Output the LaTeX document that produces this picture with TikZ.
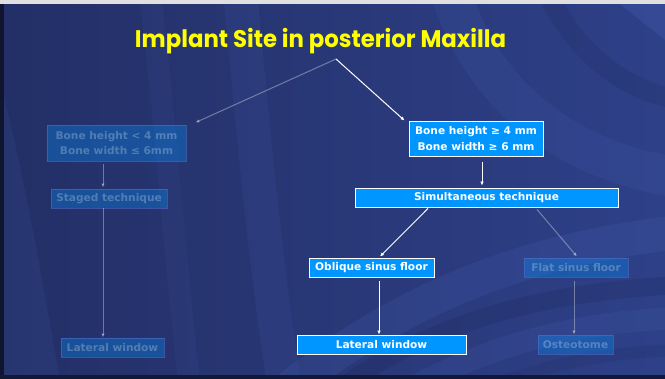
\documentclass[tikz,border=0pt]{standalone}
\usepackage{fontspec}
\usepackage{graphicx}
\usetikzlibrary{arrows.meta}
\newfontfamily\boxfont{DejaVu Sans}
\newfontfamily\titlefont{Poppins}

\definecolor{navy}{RGB}{35,47,102}
\definecolor{navyright}{RGB}{46,64,136}
\definecolor{sweep}{RGB}{80,108,196}
\definecolor{deepnavy}{RGB}{22,30,70}
\definecolor{azure}{RGB}{0,150,255}
\definecolor{titleyellow}{RGB}{255,255,0}

\tikzset{
  box/.style={draw=white, line width=0.9pt, fill=azure, text=white,
    font=\boxfont\bfseries\fontsize{10.6}{15.7}\selectfont,
    inner sep=0pt, align=center},
  dimbox/.style={box, draw=sweep, fill opacity=0.32, draw opacity=0.6, text opacity=0.25},
  arr/.style={draw=white, line width=1pt, -{Latex[length=4pt,width=3.6pt]}},
  dimarr/.style={arr, opacity=0.35},
  band/.style={line width=#1, line cap=round},
}

\begin{document}
\begin{tikzpicture}[x=1pt, y=-1pt]
  \useasboundingbox (0,0) rectangle (665,379);

  % slide background
  \shade[left color=navy, right color=navyright] (0,0) rectangle (665,379);
  \begin{scope}
    \clip (0,0) rectangle (665,379);
    % soft swooping bands
    \fill[sweep, opacity=0.10] (0,80) .. controls (30,200) and (45,300) .. (60,379) -- (0,379) -- cycle;
    \draw[sweep, opacity=0.10, band=34pt] (240,-10) .. controls (255,150) and (265,260) .. (285,390);
    \draw[sweep, opacity=0.08, band=22pt] (150,-10) .. controls (165,120) and (175,260) .. (190,390);
    \draw[sweep, opacity=0.13, band=40pt] (450,-10) .. controls (480,90) and (560,160) .. (680,178);
    \draw[deepnavy, opacity=0.14, band=20pt] (545,-10) .. controls (575,50) and (620,90) .. (680,100);
    \fill[sweep, opacity=0.22] (615,0) -- (665,0) -- (665,40) -- cycle;
    \draw[sweep, opacity=0.16, band=34pt] (280,395) .. controls (400,300) and (520,250) .. (680,232);
    \draw[deepnavy, opacity=0.17, band=18pt] (330,395) .. controls (430,322) and (540,292) .. (680,285);
    \draw[sweep, opacity=0.14, band=22pt] (400,395) .. controls (480,348) and (570,322) .. (680,318);
    \draw[deepnavy, opacity=0.12, band=12pt] (470,395) .. controls (530,368) and (600,352) .. (680,350);
  \end{scope}

  % slide frame
  \fill[black!12] (0,0) rectangle (665,4);
  \fill[deepnavy!70!black] (0,4) rectangle (4,379);
  \fill[deepnavy!80!black] (0,375) rectangle (665,379);

  % title
  \node[anchor=base, text=titleyellow, inner sep=0pt] (title) at (320.5,48)
    {\resizebox{371pt}{\height}{\titlefont\bfseries\fontsize{24}{30}\selectfont Implant Site in posterior Maxilla}};
  \coordinate (apex) at (336,59);

  % active branch
  \node[box, minimum width=134pt, minimum height=35pt] (bh) at (476,138.5)
    {Bone height ≥ 4 mm\\Bone width ≥ 6 mm};
  \node[box, minimum width=263pt, minimum height=19pt] (sim) at (486.5,197.5) {Simultaneous technique};
  \node[box, minimum width=125pt, minimum height=19pt] (obl) at (371.5,267.5) {Oblique sinus floor};
  \node[box, minimum width=169pt, minimum height=19pt] (lat) at (381.5,344.5) {Lateral window};

  % faded branches
  \node[dimbox, minimum width=139pt, minimum height=36pt] (bl) at (116.5,143)
    {Bone height < 4 mm\\Bone width ≤ 6mm};
  \node[dimbox, minimum width=116pt, minimum height=19pt] (st) at (109,198.5) {Staged technique};
  \node[dimbox, minimum width=103pt, minimum height=19pt] (ll) at (112.5,347.5) {Lateral window};
  \node[dimbox, minimum width=104pt, minimum height=19pt] (flat) at (576,267.5) {Flat sinus floor};
  \node[dimbox, minimum width=75pt, minimum height=19pt] (ost) at (575.5,344.5) {Osteotome};

  % connectors
  \draw[arr] (apex) -- ([xshift=-4pt]bh.north west);
  \draw[arr] ([xshift=6pt,yshift=-6pt]bh.south) -- ([xshift=-4.5pt,yshift=2pt]sim.north);
  \draw[arr] ([xshift=-58.5pt,yshift=-1pt]sim.south) -- ([xshift=8.5pt,yshift=1pt]obl.north);
  \draw[arr] ([xshift=7.5pt,yshift=-4pt]obl.south) -- ([xshift=-2.5pt]lat.north);

  \draw[dimarr] (apex) -- ([xshift=9pt,yshift=2pt]bl.north east);
  \draw[dimarr] ([xshift=-13.5pt,yshift=-3pt]bl.south) -- ([xshift=-6pt,yshift=1pt]st.north);
  \draw[dimarr] ([xshift=-6pt]st.south) -- ([xshift=-9.5pt]ll.north);
  \draw[dimarr] ([xshift=50.5pt,yshift=-2pt]sim.south) -- ([xshift=1pt,yshift=1pt]flat.north);
  \draw[dimarr] ([xshift=-2pt,yshift=-4pt]flat.south) -- ([xshift=-1.5pt]ost.north);
\end{tikzpicture}
\end{document}
